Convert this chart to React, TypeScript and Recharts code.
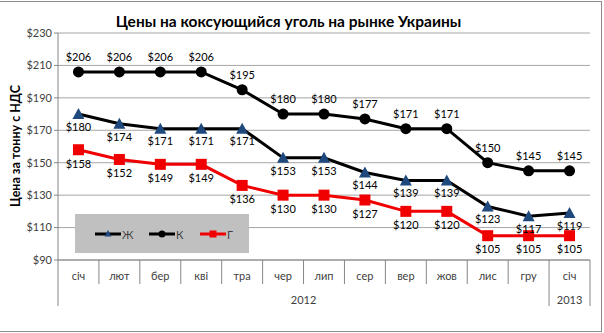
import { LineChart, Line, XAxis, YAxis, CartesianGrid, LabelList } from 'recharts';

const months = ['січ', 'лют', 'бер', 'кві', 'тра', 'чер', 'лип', 'сер', 'вер', 'жов', 'лис', 'гру', 'січ'];
const yearGroups = [
  { label: '2012', start: 0, count: 12 },
  { label: '2013', start: 12, count: 1 },
];
const zhValues = [180, 174, 171, 171, 171, 153, 153, 144, 139, 139, 123, 117, 119];
const kValues = [206, 206, 206, 206, 195, 180, 180, 177, 171, 171, 150, 145, 145];
const gValues = [158, 152, 149, 149, 136, 130, 130, 127, 120, 120, 105, 105, 105];
const yTicks = [90, 110, 130, 150, 170, 190, 210, 230];
const gridValues = [90, 100, 110, 120, 130, 140, 150, 160, 170, 180, 190, 200, 210, 220, 230];

const chartData = months.map((m, i) => ({ month: m, zh: zhValues[i], k: kValues[i], g: gValues[i] }));

const W = 604;
const H = 333;
const M = { top: 33, right: 14, bottom: 0, left: 0 };
const Y_AXIS_W = 58;
const X_AXIS_H = 73;
const plotW = W - M.left - M.right - Y_AXIS_W;
const band = plotW / months.length;
const FONT = 'Lato, "Open Sans", sans-serif';
const BLUE = '#1F497D';
const RED = '#F00000';
const AXIS = '#868686';

function MonthTick(props: any) {
  const { x, y, index, payload } = props;
  const group = yearGroups.find((g) => g.start === index);
  const isLast = index === months.length - 1;
  return (
    <g>
      <line x1={x - band / 2} x2={x - band / 2} y1={y} y2={group ? y + 46 : y + 24} stroke={AXIS} />
      {isLast && <line x1={x + band / 2} x2={x + band / 2} y1={y} y2={y + 46} stroke={AXIS} />}
      <text x={x} y={y + 20} textAnchor="middle" fontSize={11} fill="#404040" fontFamily={FONT}>
        {payload.value}
      </text>
      {group && (
        <text x={x + ((group.count - 1) * band) / 2} y={y + 44} textAnchor="middle" fontSize={11} fill="#404040" fontFamily={FONT}>
          {group.label}
        </text>
      )}
    </g>
  );
}

function TriangleDot(props: any) {
  const { cx, cy } = props;
  if (cx == null || cy == null) return null;
  return <path d={`M${cx},${cy - 6} L${cx + 6},${cy + 5} L${cx - 6},${cy + 5} Z`} fill={BLUE} />;
}

function SquareDot(props: any) {
  const { cx, cy } = props;
  if (cx == null || cy == null) return null;
  return <rect x={cx - 5.5} y={cy - 5.5} width={11} height={11} fill={RED} />;
}

function CircleDot(props: any) {
  const { cx, cy } = props;
  if (cx == null || cy == null) return null;
  return <circle cx={cx} cy={cy} r={5.5} fill="#000" />;
}

function YTitle() {
  // centred on the plot's vertical middle, left of the tick labels
  const cx = 15;
  const cy = 146;
  return (
    <text x={cx} y={cy} transform={`rotate(-90 ${cx} ${cy})`} textAnchor="middle" dominantBaseline="central" fontSize={12.5} fontWeight="bold" fill="#000" fontFamily={FONT}>
      Цена за тонну с НДС
    </text>
  );
}

const legendItems = [
  { name: 'Ж', line: '#000', marker: 'tri', color: BLUE, left: 20 },
  { name: 'К', line: '#000', marker: 'circle', color: '#000', left: 74 },
  { name: 'Г', line: RED, marker: 'square', color: RED, left: 125 },
];

function LegendBox() {
  return (
    <div style={{ position: 'absolute', left: 75, top: 214, width: 174, height: 39, background: '#c0c0c0' }}>
      {legendItems.map((it) => (
        <div key={it.name} style={{ position: 'absolute', left: it.left, top: 12, display: 'flex', alignItems: 'center', height: 16 }}>
          <svg width={26} height={16}>
            <line x1={0} x2={26} y1={8} y2={8} stroke={it.line} strokeWidth={3} />
            {it.marker === 'tri' && <path d="M13,4 L16.5,10.5 L9.5,10.5 Z" fill={it.color} />}
            {it.marker === 'circle' && <circle cx={13} cy={8} r={3.5} fill={it.color} />}
            {it.marker === 'square' && <rect x={9.5} y={4.5} width={7} height={7} fill={it.color} />}
          </svg>
          <span style={{ fontFamily: FONT, fontSize: 11, color: '#404040', marginLeft: 1 }}>{it.name}</span>
        </div>
      ))}
    </div>
  );
}

export default function App() {
  return (
    <div style={{ position: 'fixed', left: 0, top: 0, width: W, height: H, background: '#fff' }}>
      <div style={{ position: 'absolute', left: -1, top: 1, width: 601, height: 329, border: '1px solid #8c8c8c' }} />
      <div style={{ position: 'absolute', left: 0, width: 577, top: 12, textAlign: 'center', fontFamily: FONT, fontWeight: 'bold', fontSize: 15.5, color: '#000' }}>
        Цены на коксующийся уголь на рынке Украины
      </div>
      <div style={{ position: 'absolute', left: 0, top: 0 }}>
        <LineChart width={W} height={H} data={chartData} margin={M}>
          <CartesianGrid vertical={false} horizontalValues={gridValues} stroke="#a6a6a6" />
          <XAxis
            dataKey="month"
            height={X_AXIS_H}
            padding={{ left: band / 2, right: band / 2 }}
            tickLine={false}
            tickSize={0}
            tickMargin={0}
            axisLine={{ stroke: AXIS }}
            tick={<MonthTick />}
            interval={0}
          />
          <YAxis
            width={Y_AXIS_W}
            domain={[90, 230]}
            ticks={yTicks}
            tickFormatter={(v) => `$${v}`}
            tick={{ fontSize: 11, fill: '#404040', fontFamily: FONT }}
            tickSize={4}
            tickLine={{ stroke: AXIS }}
            axisLine={{ stroke: AXIS }}
            label={<YTitle />}
          />
          <Line dataKey="zh" name="Ж" stroke="#000" strokeWidth={3} dot={<TriangleDot />} activeDot={false} isAnimationActive={false}>
            <LabelList dataKey="zh" position="bottom" offset={9} formatter={(v: any) => `$${v}`} style={{ fontSize: 11, fill: '#000', fontFamily: FONT }} />
          </Line>
          <Line dataKey="k" name="К" stroke="#000" strokeWidth={3} dot={<CircleDot />} activeDot={false} isAnimationActive={false}>
            <LabelList dataKey="k" position="top" offset={11} formatter={(v: any) => `$${v}`} style={{ fontSize: 11, fill: '#000', fontFamily: FONT }} />
          </Line>
          <Line dataKey="g" name="Г" stroke={RED} strokeWidth={3} dot={<SquareDot />} activeDot={false} isAnimationActive={false}>
            <LabelList dataKey="g" position="bottom" offset={10} formatter={(v: any) => `$${v}`} style={{ fontSize: 11, fill: '#000', fontFamily: FONT }} />
          </Line>
        </LineChart>
      </div>
      <LegendBox />
    </div>
  );
}
